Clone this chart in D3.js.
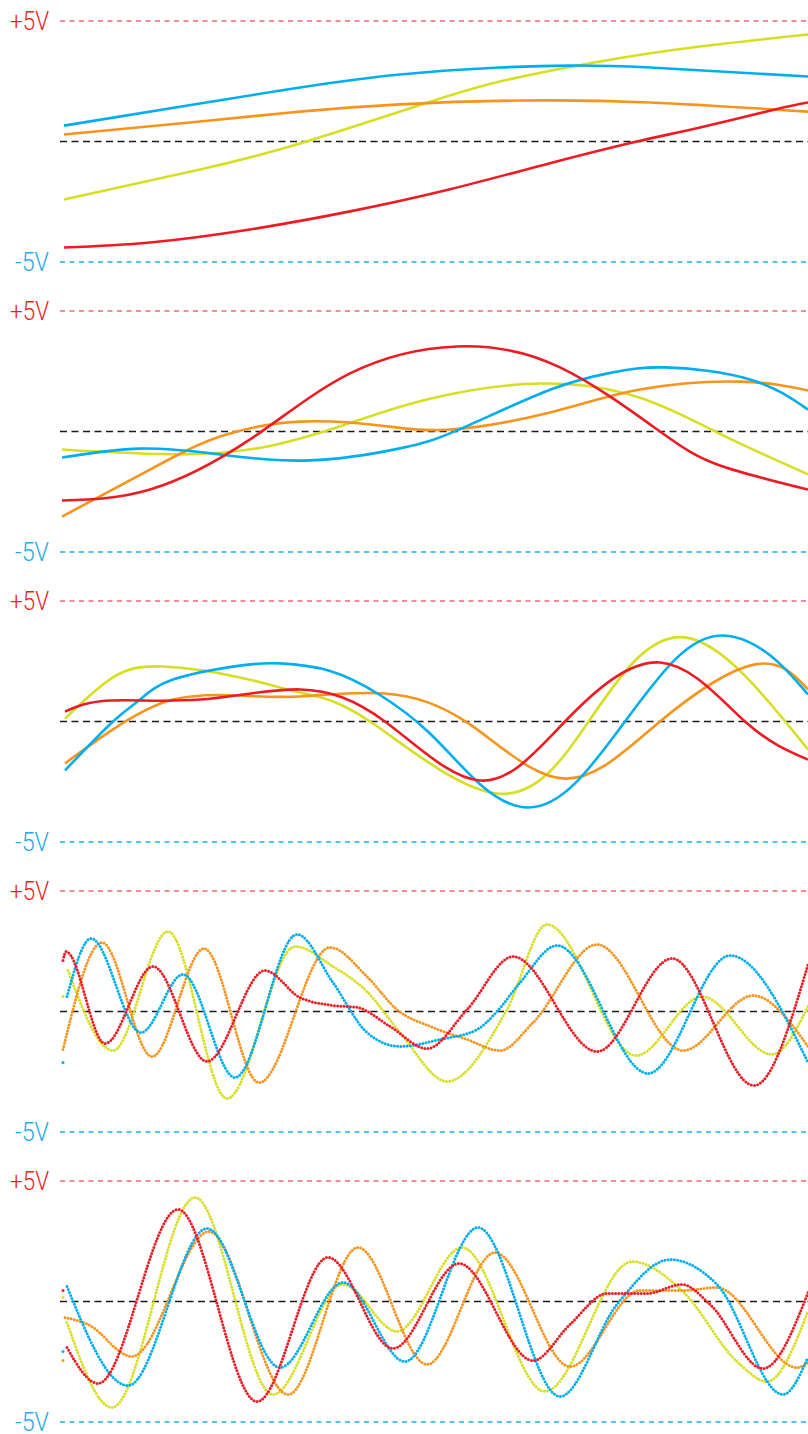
<!DOCTYPE html>
<html>
<head>
<meta charset="utf-8">
<script src="https://cdn.jsdelivr.net/npm/d3@7"></script>
<style>
  body { margin: 0; background: #fff; }
  svg { display: block; }
  .lbl { font-family: "Roboto", "Liberation Sans Narrow", "DejaVu Sans Condensed", sans-serif; font-size: 25px; font-weight: 300; }
</style>
</head>
<body>
<div id="chart-area"></div>
<script>
// t = sample position (0..746), v = volts
const p1Blue   = [[2,0.66],[138,1.58],[238,2.24],[338,2.78],[438,3.07],[508,3.15],[588,3.07],[746,2.70]];
const p1Orange = [[2,0.29],[138,0.83],[238,1.24],[338,1.54],[458,1.70],[588,1.62],[746,1.24]];
const p1Yellow = [[2,-2.41],[138,-1.16],[238,-0.08],[363,1.58],[438,2.49],[538,3.32],[638,3.94],[746,4.44]];
const p1Red    = [[2,-4.40],[88,-4.19],[188,-3.65],[288,-2.90],[388,-1.98],[488,-0.90],[575,0],[638,0.58],[713,1.33],[746,1.62]];

const p2Blue   = [[0,-1.08],[78,-0.71],[158,-0.95],[248,-1.20],[338,-0.70],[398,0.10],[488,1.73],[548,2.43],[603,2.66],[688,2.16],[746,0.91]];
const p2Orange = [[0,-3.53],[88,-1.58],[158,-0.21],[238,0.41],[318,0.25],[388,0.08],[488,0.79],[578,1.74],[678,2.07],[746,1.70]];
const p2Yellow = [[0,-0.75],[118,-0.95],[208,-0.60],[288,0.35],[368,1.36],[478,1.99],[578,1.40],[658,-0.10],[746,-1.78]];
const p2Red    = [[0,-2.86],[88,-2.41],[188,-0.33],[288,2.41],[395,3.53],[498,2.66],[598,0],[658,-1.41],[746,-2.41]];

const p3Blue   = [[3,-2.03],[51,0],[78,0.91],[111,1.74],[178,2.32],[218,2.41],[268,2.10],[318,1.10],[368,-0.50],[418,-2.60],[466,-3.57],[513,-2.57],[563,0],[613,2.57],[660,3.57],[708,2.75],[746,1.12]];
const p3Orange = [[3,-1.74],[51,-0.33],[111,0.91],[178,1.08],[238,1.04],[323,1.16],[408,-0.12],[503,-2.37],[598,0],[693,2.37],[746,1.33]];
const p3Yellow = [[3,0.12],[51,1.83],[101,2.28],[178,1.83],[238,1.20],[308,0],[435,-2.99],[528,0.08],[623,3.49],[746,-1.16]];
const p3Red    = [[3,0.41],[48,0.87],[138,0.91],[238,1.33],[323,0],[418,-2.45],[503,0],[598,2.45],[683,0],[746,-1.58]];

const p4Blue   = [[1,-2.12],[5,0.62],[29,3.03],[79,-0.87],[121,1.54],[173,-2.74],[235,3.20],[271,1.20],[305,-0.87],[338,-1.45],[378,-1.16],[415,-0.75],[435,0],[458,1.20],[495,2.74],[586,-2.57],[668,2.32],[746,-2.12]];
const p4Orange = [[1,-1.58],[40,2.86],[90,-1.87],[142,2.61],[197,-2.95],[268,2.66],[305,1.45],[335,0.08],[371,-0.66],[405,-1.16],[438,-1.62],[471,-0.46],[535,2.78],[621,-1.62],[691,0.66],[746,-1.45]];
const p4Yellow = [[1,0.62],[6,1.70],[51,-1.62],[106,3.32],[165,-3.61],[233,2.70],[271,1.87],[305,0.83],[338,-0.87],[385,-2.90],[445,0.08],[485,3.61],[574,-1.83],[640,0.62],[710,-1.78],[746,0.21]];
const p4Red    = [[1,2.12],[4,2.49],[43,-1.33],[91,1.87],[145,-2.07],[203,1.70],[238,0.58],[271,0.25],[295,0.17],[328,-0.62],[365,-1.54],[405,0.08],[451,2.28],[535,-1.66],[610,2.20],[692,-3.07],[746,1.95]];

const p5Blue   = [[1,-2.07],[5,0.62],[66,-3.49],[145,3.03],[218,-2.74],[281,0.79],[343,-2.49],[416,3.07],[498,-3.94],[555,-0.12],[608,1.74],[655,0.71],[721,-3.86],[746,-2.32]];
const p5Orange = [[1,-2.45],[3,-0.66],[26,-0.95],[70,-2.28],[147,2.90],[226,-3.86],[296,2.24],[365,-2.61],[433,2.03],[508,-2.70],[578,0.46],[621,0.46],[655,0.58],[735,-2.74],[746,-2.53]];
const p5Yellow = [[1,0.17],[5,-0.87],[50,-4.40],[133,4.32],[211,-3.86],[281,0.71],[335,-1.24],[400,2.24],[483,-3.73],[570,1.66],[621,0.41],[675,-2.49],[705,-3.32],[746,-0.41]];
const p5Red    = [[1,0.46],[5,-1.91],[36,-3.40],[116,3.82],[195,-4.15],[266,1.83],[331,-1.95],[397,1.58],[471,-2.45],[508,-0.95],[545,0.33],[585,0.33],[620,0.71],[648,-0.12],[701,-2.78],[746,0.37]];

const refLevels = [5, 0, -5];
const refLabels = ["+5V", null, "-5V"];

const colors = {blue: "#00aeef", orange: "#f7941d", yellow: "#d7df23", red: "#ed1c24"};

const panels = [
  {series: {yellow: p1Yellow, orange: p1Orange, blue: p1Blue, red: p1Red}, dotted: false},
  {series: {yellow: p2Yellow, orange: p2Orange, blue: p2Blue, red: p2Red}, dotted: false},
  {series: {yellow: p3Yellow, orange: p3Orange, blue: p3Blue, red: p3Red}, dotted: false},
  {series: {yellow: p4Yellow, orange: p4Orange, blue: p4Blue, red: p4Red}, dotted: true},
  {series: {yellow: p5Yellow, orange: p5Orange, blue: p5Blue, red: p5Red}, dotted: true}
];

const width = 808, height = 1434;
const panelTop = 21, panelStep = 290, panelH = 241;

const svg = d3.select("#chart-area").append("svg")
    .attr("width", width)
    .attr("height", height);

const x = d3.scaleLinear().domain([0, 746]).range([62, 808]);

const refStroke = {"5": "#f26a72", "0": "#1a1a1a", "-5": "#1fb0e8"};
const refDash = {"5": "5,4.5", "0": "7,4.5", "-5": "5,4.5"};
const labelFill = {"5": "#ed1c24", "-5": "#27aae1"};
const labelLen = {"5": 39, "-5": 34};

panels.forEach((p, i) => {
    let top = panelTop + i * panelStep;
    let y = d3.scaleLinear().domain([-5, 5]).range([top + panelH, top]);
    let g = svg.append("g").attr("class", "panel");

    // dashed reference lines + labels
    refLevels.forEach((lv, j) => {
        g.append("line")
            .attr("x1", 60).attr("x2", width)
            .attr("y1", y(lv)).attr("y2", y(lv))
            .attr("stroke", refStroke[lv])
            .attr("stroke-width", 1.3)
            .attr("stroke-dasharray", refDash[lv]);
        if (refLabels[j]) {
            g.append("text")
                .attr("class", "lbl")
                .attr("x", 49)
                .attr("y", y(lv) + 9)
                .attr("text-anchor", "end")
                .attr("textLength", labelLen[lv])
                .attr("lengthAdjust", "spacingAndGlyphs")
                .attr("fill", labelFill[lv])
                .text(refLabels[j]);
        }
    });

    let line = d3.line()
        .curve(p.dotted ? d3.curveMonotoneX : d3.curveNatural)
        .x(d => x(d[0]))
        .y(d => y(d[1]));

    Object.entries(p.series).forEach(([name, data]) => {
        if (!p.dotted) {
            g.append("path")
                .datum(data)
                .attr("d", line)
                .attr("fill", "none")
                .attr("stroke", colors[name])
                .attr("stroke-width", 2.6);
            return;
        }
        // a first sample that jumps away from the trace is shown on its own
        let rest = data;
        let dx = x(data[1][0]) - x(data[0][0]);
        let dy = Math.abs(y(data[0][1]) - y(data[1][1]));
        if (dx < 8 && dy > 20) {
            g.append("circle")
                .attr("cx", x(data[0][0]))
                .attr("cy", y(data[0][1]))
                .attr("r", 1.5)
                .attr("fill", colors[name]);
            rest = data.slice(1);
        }
        g.append("path")
            .datum(rest)
            .attr("d", line)
            .attr("fill", "none")
            .attr("stroke", colors[name])
            .attr("stroke-width", 3)
            .attr("stroke-linecap", "round")
            .attr("stroke-dasharray", "0,3.2");
    });
});
</script>
</body>
</html>
